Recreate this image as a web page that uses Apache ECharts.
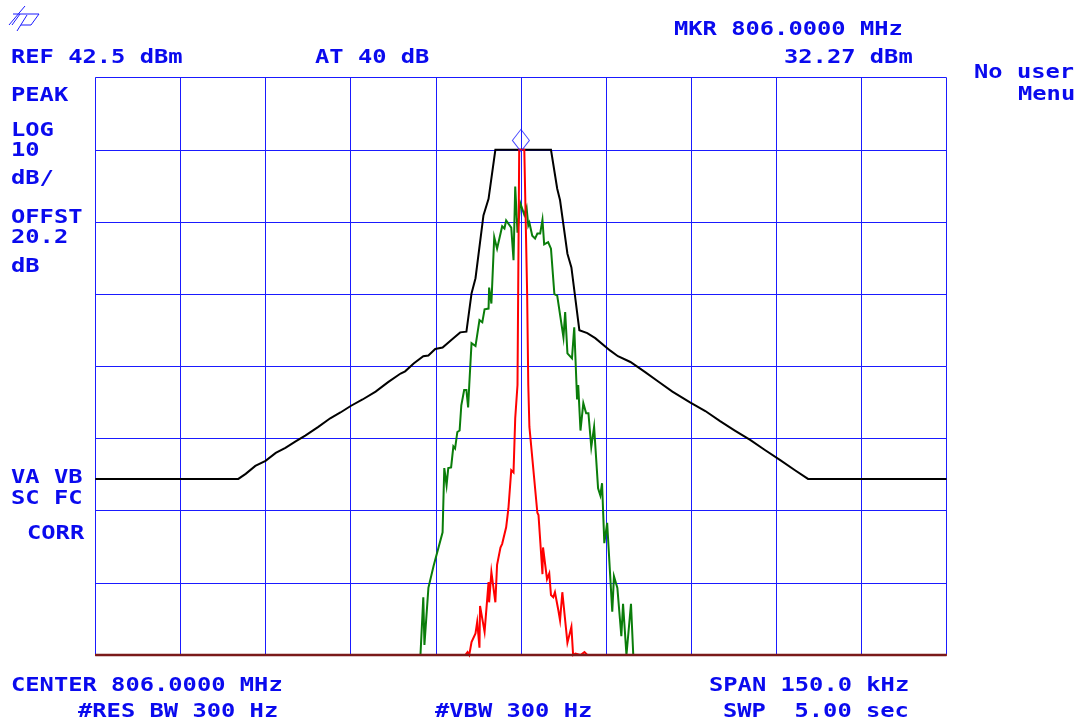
<!DOCTYPE html>
<html><head><meta charset="utf-8">
<style>html,body{margin:0;padding:0;background:#fff}#c{width:1078px;height:723px}</style>
<script src="https://cdn.jsdelivr.net/npm/echarts@6/dist/echarts.min.js"></script>
</head><body><div id="c"></div>
<script>
// x = offset from 806 MHz in kHz, y = dBm
const blackTrace = [[-75,-13.1],[-49.8,-13.1],[-48.5,-12.4],[-46.8,-11.3],[-45,-10.6],[-43.2,-9.5],[-41.5,-8.8],[-39.7,-7.9],[-38,-7.1],[-35.7,-5.9],[-33.6,-4.7],[-31.8,-3.9],[-30,-3],[-27.9,-2.1],[-25.6,-1],[-23.4,0.3],[-21.2,1.5],[-20.4,1.8],[-18.9,2.9],[-17.2,3.9],[-16.3,4],[-15.1,4.9],[-13.8,5.1],[-11.9,6.4],[-10.7,7.2],[-9.6,7.3],[-8.7,12.6],[-8,14.7],[-6.6,23.4],[-5.7,25.7],[-4.5,32.5],[5.3,32.5],[6.4,27.1],[6.9,25.5],[8.2,18.1],[8.9,16.2],[10.3,7.5],[11.7,7.1],[13.1,6.4],[15.7,4.7],[17.1,3.9],[19.3,3.1],[21.9,1.7],[24.2,0.4],[26.7,-1],[29.8,-2.5],[32.5,-3.7],[35.1,-5.1],[37.7,-6.4],[40.4,-7.7],[43,-9.1],[45.7,-10.5],[48.3,-11.9],[50.6,-13.1],[75,-13.1]];
const greenTrace = [[-75,-37.5],[-17.7,-37.5],[-17.2,-29.5],[-17,-36.1],[-16.3,-28.2],[-16,-28],[-15.4,-25.2],[-15.1,-25],[-13.8,-20.5],[-13.7,-17.4],[-13.5,-11.6],[-13.1,-14],[-12.8,-11.6],[-12.3,-11.5],[-11.9,-8.6],[-11.6,-8.9],[-11.2,-6.6],[-10.8,-6.4],[-10.5,-2.9],[-10,-0.8],[-9.6,-0.8],[-9.3,-3.2],[-9.1,-0.1],[-8.7,5.7],[-8,5.3],[-7.3,8.9],[-6.8,8.6],[-6.4,10.4],[-5.7,10.5],[-5.6,13.4],[-5.2,11.2],[-4.7,20.4],[-4.2,18.8],[-3.3,21.9],[-2.9,21.6],[-2.6,22.7],[-1.7,21.7],[-1.3,17.2],[-1,27.4],[-0.6,21],[-0.1,25.1],[0.6,23.5],[1,24.5],[1.3,22],[1.5,22.4],[2,20.6],[2.5,20.2],[2.9,20.9],[3.4,20.9],[3.8,22.8],[4.1,19.4],[4.8,19.7],[5.3,18.8],[5.9,12.5],[6.4,12.3],[7.5,6.5],[7.8,10],[8.2,4.3],[9,3.6],[9.4,7.9],[9.9,-2.1],[10.1,-0.1],[10.5,-6.4],[11,-2.6],[11.5,-4],[11.9,-4],[12.4,-8.7],[12.9,-5.9],[13.6,-14.4],[14,-15.4],[14.3,-13.7],[14.7,-22],[15.2,-19.2],[16.1,-31.5],[16.4,-26.6],[17,-28.2],[17.7,-34.9],[18,-30.4],[18.6,-37.5],[18.9,-37.5],[19.4,-30.4],[19.8,-37.5],[75,-37.5]];
const redTrace = [[-75,-37.5],[-9.8,-37.5],[-9.4,-37.1],[-9.1,-37.5],[-8.7,-35.7],[-8,-34.5],[-7.7,-32.9],[-7.3,-36.5],[-7.2,-30.7],[-6.4,-34.3],[-5.7,-27.4],[-5.6,-30.2],[-5.2,-26],[-4.5,-30.2],[-4.2,-25],[-3.6,-22.6],[-3.3,-22.1],[-2.6,-19.8],[-2.2,-17.2],[-1.7,-11.9],[-1.3,-12.2],[-1,-4.7],[-0.6,-0.1],[-0.3,32.5],[0.6,32.5],[1.1,12.6],[1.3,-0.1],[1.5,-5.9],[1.8,-6.1],[2.9,-17.8],[3.1,-18.1],[3.8,-26.3],[3.9,-22.6],[4.6,-27],[5,-26.2],[5.3,-29.2],[5.7,-29.5],[6,-28.8],[6.6,-31.3],[6.9,-32.7],[7.3,-28.8],[8.2,-35.8],[8.9,-33.6],[9.2,-37.5],[9.6,-37.3],[10.5,-37.5],[11.2,-37.1],[11.7,-37.5],[75,-37.5]];
const floorTrace = [[-75,-37.5],[75,-37.5]];
const markerPoint = [[0,32.27]];
const labels = [
 ["REF 42.5 dBm",11,58],["AT 40 dB",315,58],["MKR 806.0000 MHz",674,30],["32.27 dBm",784,58],
 ["PEAK",11,96],["LOG",11,131],["10",11,151],["dB/",11,179],["OFFST",11,218],["20.2",11,238],["dB",11,267],
 ["VA VB",11,478],["SC FC",11,499],["CORR",27,534],
 ["CENTER 806.0000 MHz",11,686],["#RES BW 300 Hz",78,712],["#VBW 300 Hz",435,712],["SPAN 150.0 kHz",709,686],["SWP  5.00 sec",723,712],
 ["No user",974,73],["Menu",1018,95]
];
const blue = '#1a1aff';
const chart = echarts.init(document.getElementById('c'));
const line = (name,data,color,w,z)=>({name,type:'line',data,showSymbol:false,symbol:'none',animation:false,z,silent:true,
  lineStyle:{color,width:w,join:'miter'},clip:false});
const logo = pts=>({type:'polyline',silent:true,shape:{points:pts},style:{stroke:blue,lineWidth:1,fill:null}});
chart.setOption({
  animation:false,backgroundColor:'#fff',
  grid:{left:95.3,top:77.6,width:851.2,height:577.4,show:false},
  xAxis:{type:'value',min:-75,max:75,interval:15,axisLabel:{show:false},axisTick:{show:false},
    axisLine:{show:false},splitLine:{show:true,lineStyle:{color:blue,width:1}},z:1},
  yAxis:{type:'value',min:-37.5,max:42.5,interval:10,axisLabel:{show:false},axisTick:{show:false},
    axisLine:{show:false},splitLine:{show:true,lineStyle:{color:blue,width:1}},z:1},
  series:[
    line('Green',greenTrace,'#0a7d0a',2,3),
    line('Black',blackTrace,'#000',2,4),
    line('Red',redTrace,'#ff0000',2,5),
    line('Floor',floorTrace,'#7a1a1a',2.5,6),
    {type:'scatter',data:markerPoint,symbol:'diamond',symbolSize:[17,22],symbolOffset:[0,-11],z:7,silent:true,
     itemStyle:{color:'rgba(0,0,0,0)',borderColor:blue,borderWidth:1}}
  ],
  graphic:labels.map(([t,x,y])=>({type:'text',x,y,scaleX:1.25,silent:true,
    style:{text:t,fill:'#0a0aee',font:'bold 19px "DejaVu Sans Mono"',textVerticalAlign:'middle',textAlign:'left'}}))
   .concat([
     logo([[9,25],[25,6]]),
     logo([[13,14],[39,14],[31,25],[21,25]]),
     logo([[27,15],[17,31]]),
     logo([[20,14],[12,25]])
   ])
});
</script></body></html>
